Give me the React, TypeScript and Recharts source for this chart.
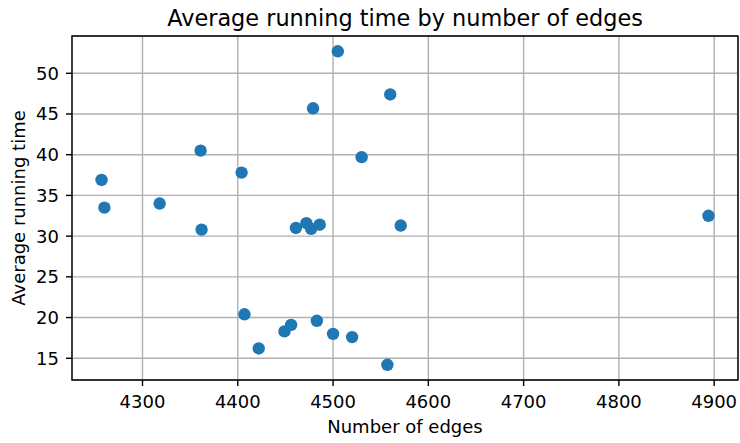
import {
  ScatterChart,
  Scatter,
  XAxis,
  YAxis,
  CartesianGrid,
  ReferenceArea,
  Label,
} from 'recharts';

const edges = [
  4257, 4260, 4318, 4361, 4362, 4404, 4407, 4422, 4449, 4456, 4461, 4472,
  4477, 4479, 4483, 4486, 4500, 4505, 4520, 4530, 4557, 4560, 4571, 4894,
];
const runningTimes = [
  36.9, 33.5, 34.0, 40.5, 30.8, 37.8, 20.4, 16.2, 18.3, 19.1, 31.0, 31.6,
  30.9, 45.7, 19.6, 31.4, 18.0, 52.7, 17.6, 39.7, 14.2, 47.4, 31.3, 32.5,
];
const xTicks = [4300, 4400, 4500, 4600, 4700, 4800, 4900];
const yTicks = [15, 20, 25, 30, 35, 40, 45, 50];

const xDomain: [number, number] = [4226, 4925];
const yDomain: [number, number] = [12.33, 54.58];

const points = edges.map((e, i) => ({ edges: e, time: runningTimes[i] }));

const font = 'DejaVu Sans, sans-serif';
const textStyle = { fill: '#000', fontSize: 18, fontFamily: font };

// matplotlib-like round marker
const Dot = (props: any) => <circle cx={props.cx} cy={props.cy} r={6.2} fill="#1f77b4" />;

export default function App() {
  return (
    <div style={{ position: 'relative', width: 740, height: 443, background: '#fff', fontFamily: font }}>
      <style>{`body { margin: 0; }`}</style>
      <div
        style={{
          position: 'absolute',
          top: 7,
          left: 72,
          width: 666,
          textAlign: 'center',
          fontSize: 22.4,
          color: '#000',
          lineHeight: '22px',
          whiteSpace: 'nowrap',
        }}
      >
        Average running time by number of edges
      </div>
      <ScatterChart width={740} height={443} margin={{ top: 36, right: 2, bottom: 0, left: 0 }}>
        <CartesianGrid stroke="#b0b0b0" strokeWidth={1.4} />
        <XAxis
          type="number"
          dataKey="edges"
          domain={xDomain}
          ticks={xTicks}
          allowDataOverflow
          height={63}
          axisLine={false}
          tickSize={6}
          tickMargin={9}
          tickLine={{ stroke: '#000', strokeWidth: 1.4 }}
          tick={textStyle}
        >
          <Label value="Number of edges" position="insideBottom" offset={10} style={textStyle} />
        </XAxis>
        <YAxis
          type="number"
          dataKey="time"
          domain={yDomain}
          ticks={yTicks}
          allowDataOverflow
          width={72}
          axisLine={false}
          tickSize={6}
          tickMargin={7}
          tickLine={{ stroke: '#000', strokeWidth: 1.4 }}
          tick={textStyle}
        >
          <Label
            value="Average running time"
            angle={-90}
            position="insideLeft"
            offset={18.5}
            style={{ ...textStyle, textAnchor: 'middle' }}
          />
        </YAxis>
        <Scatter data={points} shape={<Dot />} isAnimationActive={false} />
        <ReferenceArea
          x1={xDomain[0]}
          x2={xDomain[1]}
          y1={yDomain[0]}
          y2={yDomain[1]}
          fill="none"
          stroke="#000"
          strokeWidth={1.4}
          ifOverflow="visible"
        />
      </ScatterChart>
    </div>
  );
}
